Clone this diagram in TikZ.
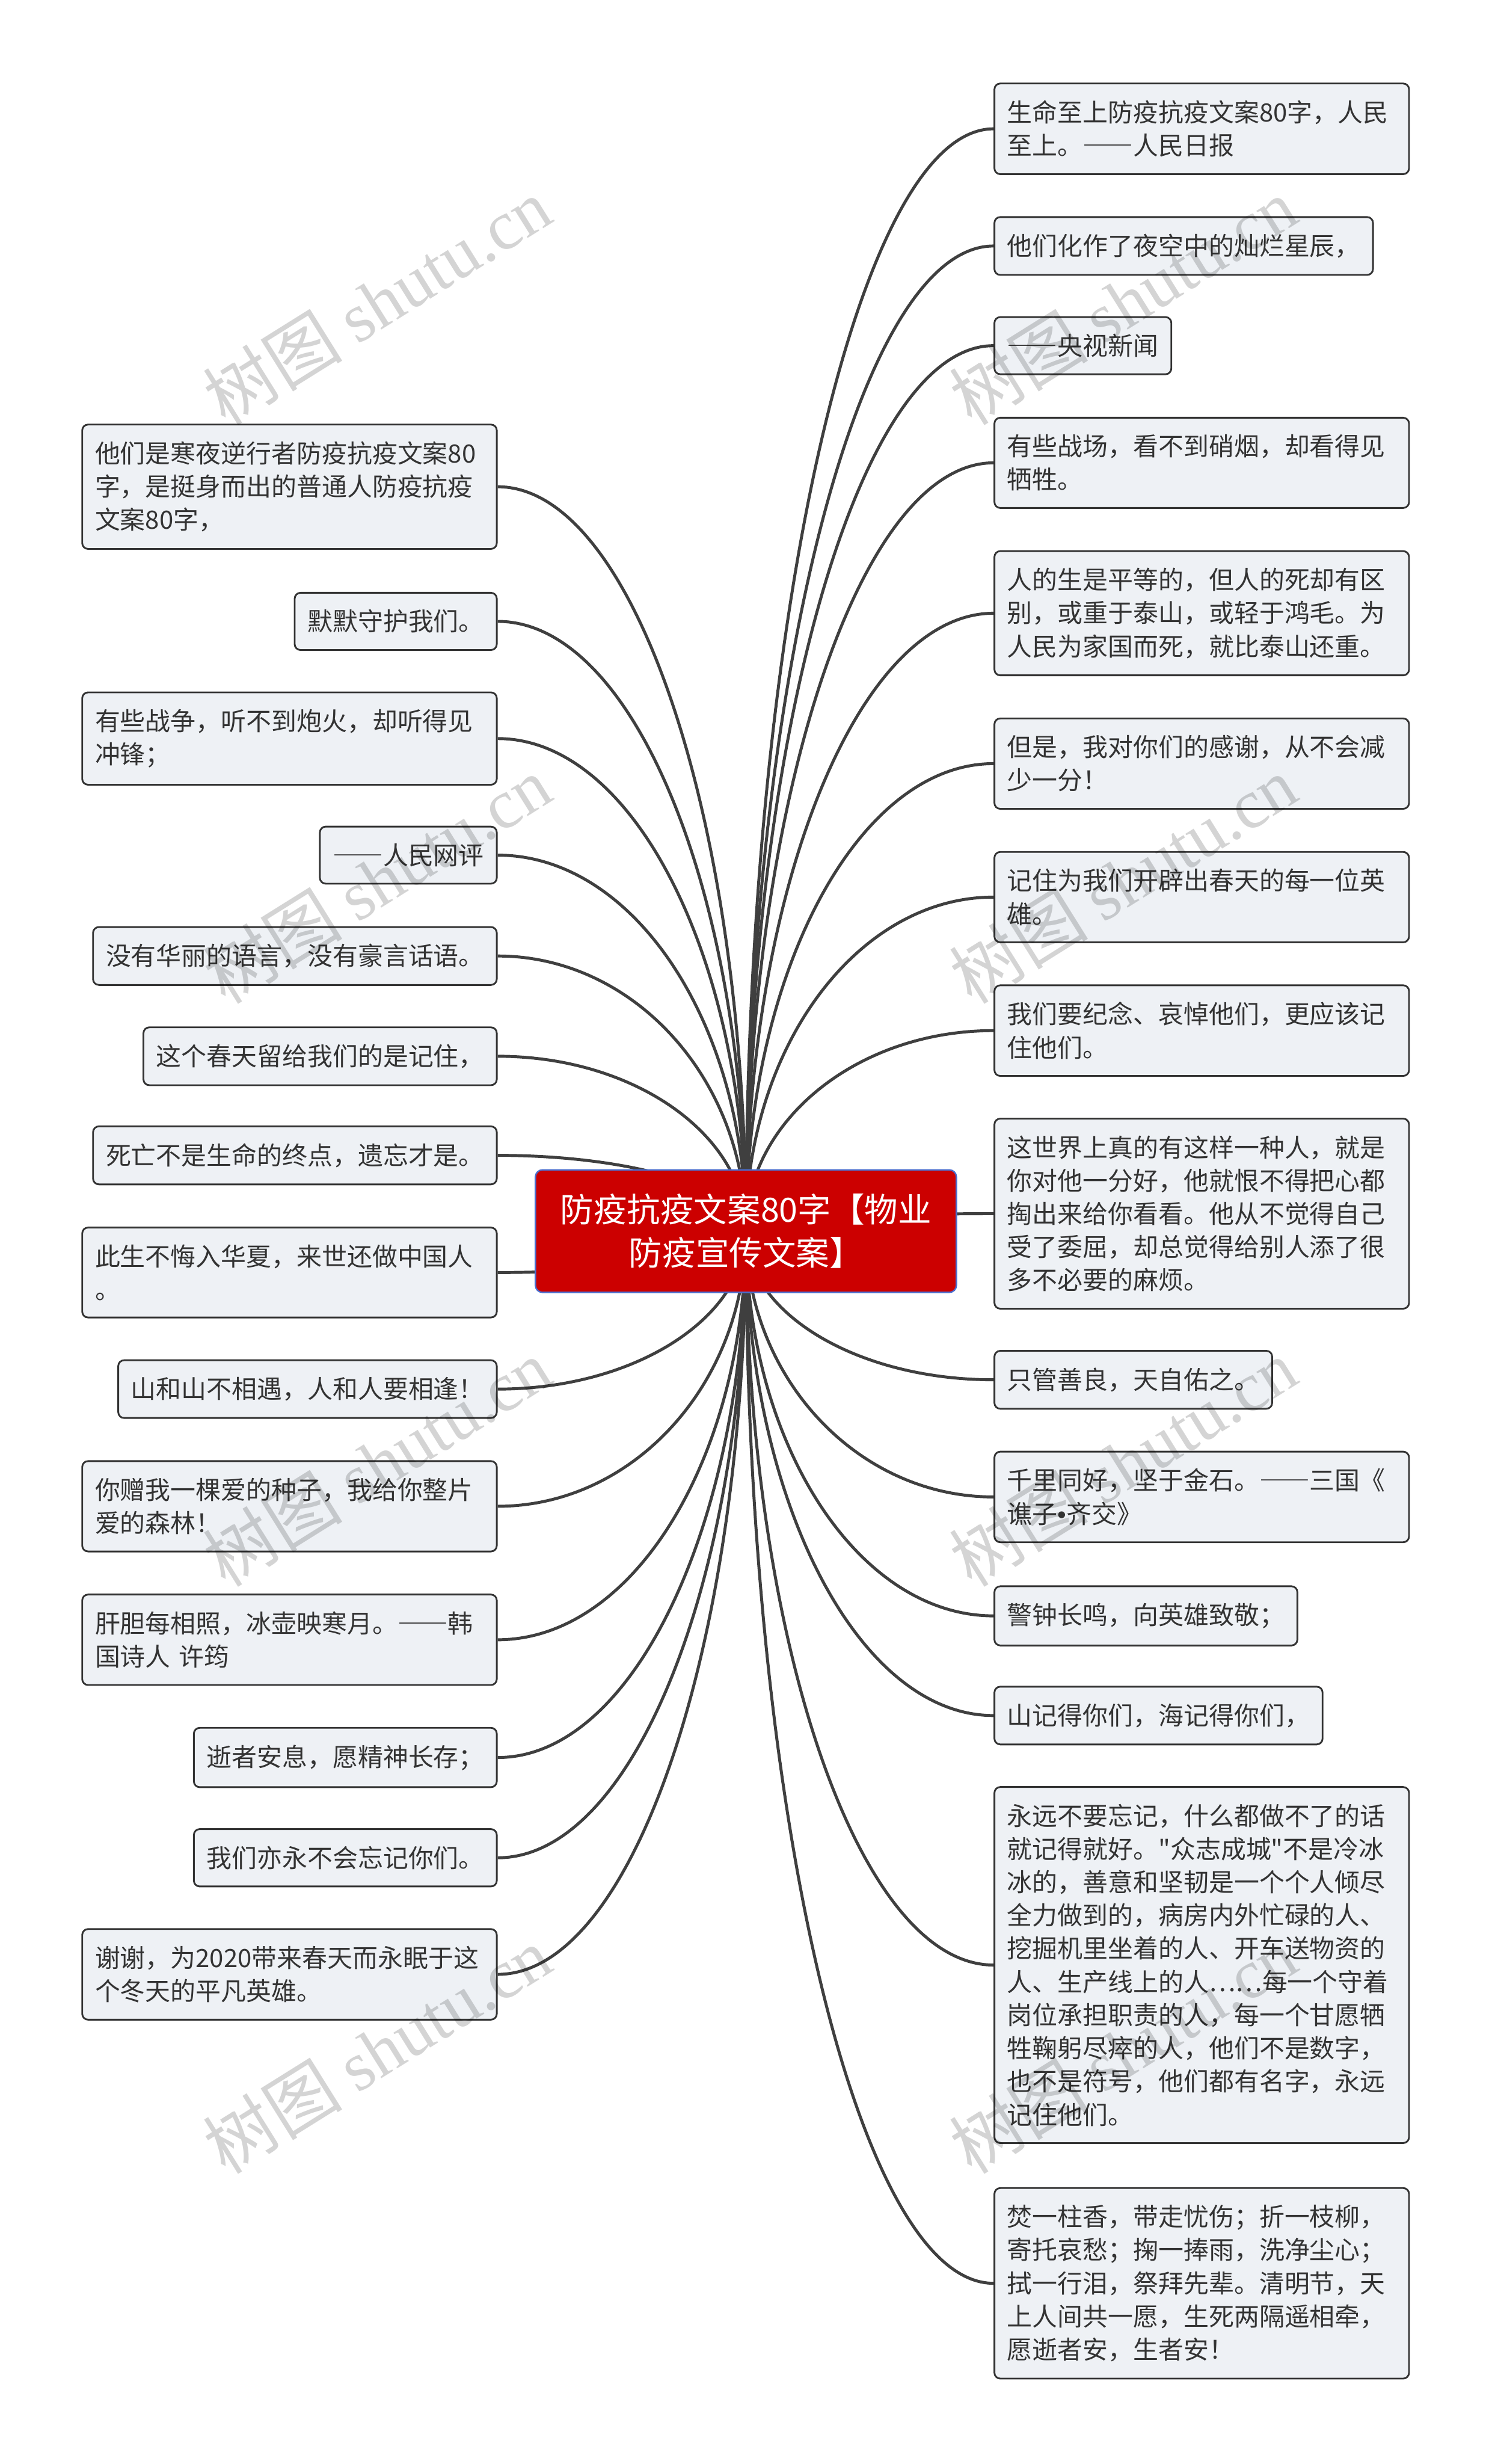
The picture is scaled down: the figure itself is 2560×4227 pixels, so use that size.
\documentclass[tikz,border=0pt]{standalone}
\usepackage{fontspec}
\setmainfont{Noto Sans CJK SC}[Ligatures=TeXOff]
\newfontfamily\dashfont{Noto Sans CJK SC}[RawFeature=+fwid]
\newfontfamily\markfont{Liberation Serif}
\newfontfamily\dotfont{Liberation Sans}
\usetikzlibrary{calc, backgrounds}
\definecolor{linegray}{HTML}{3F3F3F}
\definecolor{boxfill}{HTML}{EEF1F5}
\definecolor{boxline}{HTML}{333333}
\definecolor{rootred}{HTML}{CC0000}
\definecolor{rootline}{HTML}{4A6FD0}
\newcommand{\longdash}{{\dashfont ——}}

\begin{document}
\begin{tikzpicture}[x=0.01cm, y=-0.01cm,
  leaf/.style={draw=boxline, line width=0.85pt, fill=boxfill, rounded corners=0.1cm,
    align=left, inner xsep=0.22cm, inner ysep=0.29cm, text=boxline,
    font=\fontsize{12.3pt}{16.2pt}\selectfont},
  rleaf/.style={leaf, anchor=west},
  lleaf/.style={leaf, anchor=east},
  wide/.style={text width=6.67cm},
  root/.style={draw=rootline, line width=0.7pt, fill=rootred, rounded corners=0.12cm,
    align=center, text=white, minimum width=7.22cm, minimum height=2.1cm,
    font=\fontsize{16.3pt}{21pt}\selectfont},
  edge/.style={draw=linegray, line width=1.45pt},
  wmark/.style={rotate=32, text=black, text opacity=0.17,
    font=\fontsize{34pt}{34pt}\selectfont}]
  \useasboundingbox (0,0) rectangle (2560,4227);
  % Root topic
  \node[root] (main) at (1280,2112) {防疫抗疫文案80字【物业\\防疫宣传文案】};
  % Right branch
  \node[rleaf, wide] (r1) at (1705,221) {生命至上防疫抗疫文案80字，人民\\至上。\longdash 人民日报};
  \node[rleaf] (r2) at (1705,422) {他们化作了夜空中的灿烂星辰，};
  \node[rleaf] (r3) at (1705,593) {\longdash 央视新闻};
  \node[rleaf, wide] (r4) at (1705,794) {有些战场，看不到硝烟，却看得见\\牺牲。};
  \node[rleaf, wide] (r5) at (1705,1052) {人的生是平等的，但人的死却有区\\别，或重于泰山，或轻于鸿毛。为\\人民为家国而死，就比泰山还重。};
  \node[rleaf, wide] (r6) at (1705,1310) {但是，我对你们的感谢，从不会减\\少一分！};
  \node[rleaf, wide] (r7) at (1705,1539) {记住为我们开辟出春天的每一位英\\雄。};
  \node[rleaf, wide] (r8) at (1705,1768) {我们要纪念、哀悼他们，更应该记\\住他们。};
  \node[rleaf, wide] (r9) at (1705,2082) {这世界上真的有这样一种人，就是\\你对他一分好，他就恨不得把心都\\掏出来给你看看。他从不觉得自己\\受了委屈，却总觉得给别人添了很\\多不必要的麻烦。};
  \node[rleaf] (r10) at (1705,2367) {只管善良，天自佑之。};
  \node[rleaf, wide] (r11) at (1705,2568) {千里同好，坚于金石。\longdash 三国《\\谯子{\dotfont •}齐交》};
  \node[rleaf] (r12) at (1705,2772) {警钟长鸣，向英雄致敬；};
  \node[rleaf] (r13) at (1705,2943) {山记得你们，海记得你们，};
  \node[rleaf, wide] (r14) at (1705,3371) {永远不要忘记，什么都做不了的话\\就记得就好。"众志成城"不是冷冰\\冰的，善意和坚韧是一个个人倾尽\\全力做到的，病房内外忙碌的人、\\挖掘机里坐着的人、开车送物资的\\人、生产线上的人……每一个守着\\岗位承担职责的人，每一个甘愿牺\\牲鞠躬尽瘁的人，他们不是数字，\\也不是符号，他们都有名字，永远\\记住他们。};
  \node[rleaf, wide] (r15) at (1705,3917) {焚一柱香，带走忧伤；折一枝柳，\\寄托哀愁；掬一捧雨，洗净尘心；\\拭一行泪，祭拜先辈。清明节，天\\上人间共一愿，生死两隔遥相牵，\\愿逝者安，生者安！};
  % Left branch
  \node[lleaf, wide] (l1) at (854,835) {他们是寒夜逆行者防疫抗疫文案80\\字，是挺身而出的普通人防疫抗疫\\文案80字，};
  \node[lleaf] (l2) at (854,1066) {默默守护我们。};
  \node[lleaf, wide] (l3) at (854,1267) {有些战争，听不到炮火，却听得见\\冲锋；};
  \node[lleaf] (l4) at (854,1467) {\longdash 人民网评};
  \node[lleaf] (l5) at (854,1640) {没有华丽的语言，没有豪言话语。};
  \node[lleaf] (l6) at (854,1812) {这个春天留给我们的是记住，};
  \node[lleaf] (l7) at (854,1982) {死亡不是生命的终点，遗忘才是。};
  \node[lleaf, wide] (l8) at (854,2183) {此生不悔入华夏，来世还做中国人\\。};
  \node[lleaf] (l9) at (854,2383) {山和山不相遇，人和人要相逢！};
  \node[lleaf, wide] (l10) at (854,2584) {你赠我一棵爱的种子，我给你整片\\爱的森林！};
  \node[lleaf, wide] (l11) at (854,2813) {肝胆每相照，冰壶映寒月。\longdash 韩\\国诗人 许筠};
  \node[lleaf] (l12) at (854,3015) {逝者安息，愿精神长存；};
  \node[lleaf] (l13) at (854,3187) {我们亦永不会忘记你们。};
  \node[lleaf, wide] (l14) at (854,3387) {谢谢，为2020带来春天而永眠于这\\个冬天的平凡英雄。};
  % Connectors (behind the boxes)
  \begin{scope}[on background layer]
    \foreach \i in {1,...,15}
      \draw[edge] (main.center) .. controls ($(main.center)!0.55!(main.center |- r\i.west)$)
        and ($(r\i.west)!0.55!(main.center |- r\i.west)$) .. (r\i.west);
    \foreach \i in {1,...,14}
      \draw[edge] (main.center) .. controls ($(main.center)!0.55!(main.center |- l\i.east)$)
        and ($(l\i.east)!0.55!(main.center |- l\i.east)$) .. (l\i.east);
  \end{scope}
  % Watermark
  \foreach \y [count=\i] in {517,1509,2509,3517} {
    \node[wmark] (wl\i) at (647,\y) {树图 {\markfont shutu.cn}};
    \node[wmark] (wr\i) at (1927,\y) {树图 {\markfont shutu.cn}};
  }
\end{tikzpicture}
\end{document}
